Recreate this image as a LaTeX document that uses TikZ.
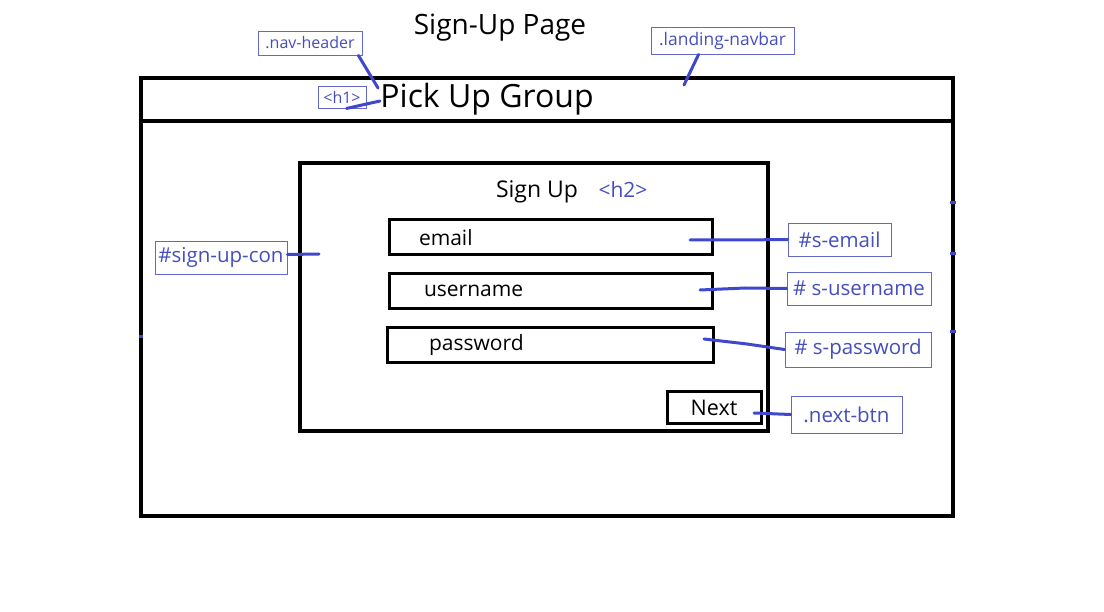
\documentclass[tikz,border=0pt]{standalone}
\usepackage{fontspec}
\setmainfont{Open Sans}
\definecolor{mblue}{RGB}{63,72,204}
\definecolor{mtag}{RGB}{70,78,190}
\usetikzlibrary{positioning}
\tikzset{
  frame/.style={rectangle,draw=black,line width=4pt,inner sep=0pt},
  field/.style={rectangle,draw=black,line width=3pt,minimum height=35pt,
    text width=253pt,inner xsep=35pt,align=left,
    font=\fontsize{21}{23}\selectfont},
  tag/.style={rectangle,draw=mtag!85,line width=0.9pt,text=mtag,inner sep=1pt,
    font=\fontsize{#1}{#1}\selectfont},
  tag/.default=20.5,
  lead/.style={draw=mblue,line width=3pt,line cap=round},
}

\begin{document}
\begin{tikzpicture}[x=1pt,y=-1pt]
  \useasboundingbox (0,0) rectangle (1104,612);

  \node[font=\fontsize{28}{32}\selectfont] (title) at (500,28) {Sign-Up Page};

  % page and header
  \node[frame,minimum width=812pt,minimum height=438pt] (page) at (547,297) {};
  \draw[line width=4pt] (page.west |- 0,121) -- (page.east |- 0,121);
  \node[font=\fontsize{32}{36}\selectfont,inner sep=0pt] (pick) at (487,99) {Pick Up Group};

  % sign up container
  \node[frame,minimum width=468pt,minimum height=268pt] (con) at (534,297) {};
  \node[font=\fontsize{23}{25}\selectfont] (signup) at (537,192) {Sign Up};
  \node[text=mtag,font=\fontsize{21}{23}\selectfont] (h2) at (623,190) {<h2>};

  \node[field,inner xsep=30pt,text width=263pt] (email) at (550.5,237.5) {email};
  \node[field] (user) at (550.5,291) {username};
  \node[field,inner xsep=42pt,text width=242pt] (pass) at (550,345) {password};
  \node[rectangle,draw=black,line width=3pt,minimum width=94pt,minimum height=32pt,
    font=\fontsize{21.5}{23}\selectfont] (next) at (714,408) {Next};

  % labels
  \node[tag=16,minimum width=104pt,minimum height=24pt] (navhdr) at (310,43) {.nav-header};
  \node[tag=16,minimum width=48pt,minimum height=22pt] (h1) at (342,97) {<h1>};
  \node[tag=17.4,minimum width=143pt,minimum height=27pt] (navbar) at (722.5,40.5) {.landing-navbar};
  \node[tag,minimum width=132pt,minimum height=33pt] (sucon) at (221,257.5) {\#sign-up-con};
  \node[tag,minimum width=103pt,minimum height=33pt] (semail) at (839.5,239.5) {\#s-email};
  \node[tag,minimum width=144pt,minimum height=33pt] (suser) at (859,288.5) {\# s-username};
  \node[tag,minimum width=146pt,minimum height=35pt] (spass) at (858,349.5) {\# s-password};
  \node[tag,minimum width=111pt,minimum height=37pt] (nextbtn) at (846.5,414.5) {.next-btn};

  % pointer ends
  \coordinate (navhdr-pt) at (378,88);
  \coordinate (h1-pt) at (380,101);
  \coordinate (navbar-pt) at (684,85);
  \coordinate (con-pt) at (319,254);
  \coordinate (email-pt) at (690,240);
  \coordinate (user-pt) at (700,290);
  \coordinate (pass-pt) at (704,339);
  \coordinate (next-pt) at (754,413);

  \draw[lead] ([xshift=-4]navhdr.south east) -- (navhdr-pt);
  \draw[lead] ([xshift=29]h1.south west) -- (h1-pt);
  \draw[lead] ([xshift=48]navbar.south west) -- (navbar-pt);
  \draw[lead] ([yshift=3]sucon.east) -- (con-pt);
  \draw[lead] (email-pt) -- (741,240) -- (semail.west);
  \draw[lead] (user-pt) -- (745,288) -- (suser.west);
  \draw[lead] (pass-pt) -- (747,344) -- (spass.west);
  \draw[lead] (next-pt) -- (nextbtn.west);

  % stray marks on the page edge
  \foreach \y in {203,254,332}
    \draw[mblue,line width=3pt] (950,\y) -- (956,\y);
  \draw[mblue,line width=3pt] (139,337) -- (143,337);
\end{tikzpicture}
\end{document}
